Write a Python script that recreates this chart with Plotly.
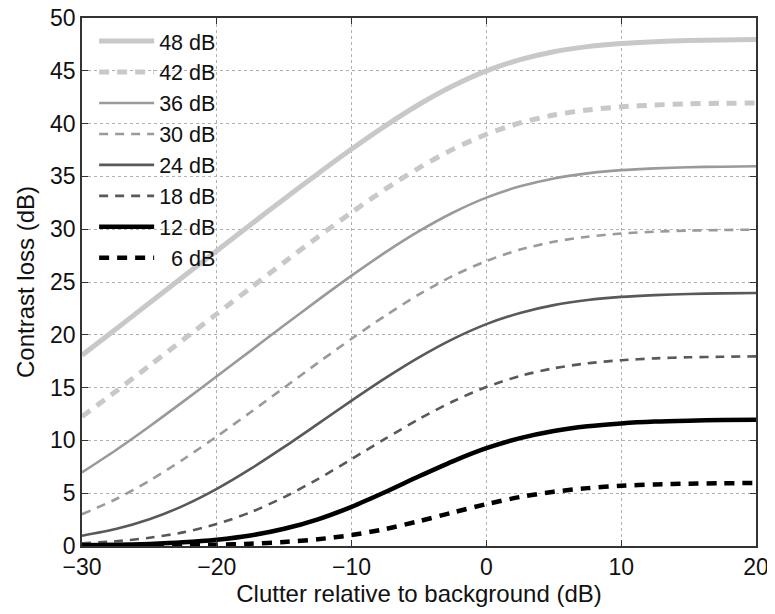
import plotly.graph_objects as go

clutter_db = [-30, -27.5, -25, -22.5, -20, -17.5, -15, -12.5, -10, -7.5, -5,
              -2.5, 0, 2.5, 5, 7.5, 10, 12.5, 15, 17.5, 20]

loss_48 = [18.07, 20.53, 23.01, 25.49, 27.96, 30.43, 32.87, 35.26, 37.59, 39.79, 41.81,
           43.56, 44.99, 46.06, 46.81, 47.29, 47.59, 47.76, 47.87, 47.92, 47.96]
loss_42 = [12.26, 14.64, 17.07, 19.53, 21.98, 24.44, 26.87, 29.27, 31.59, 33.79, 35.81,
           37.56, 38.99, 40.06, 40.81, 41.29, 41.59, 41.76, 41.87, 41.92, 41.96]
loss_36 = [6.97, 9.07, 11.32, 13.67, 16.07, 18.48, 20.90, 23.28, 25.60, 27.80, 29.81,
           31.56, 32.99, 34.06, 34.81, 35.29, 35.59, 35.76, 35.87, 35.92, 35.96]
loss_30 = [3.01, 4.43, 6.18, 8.19, 10.37, 12.66, 15.00, 17.34, 19.63, 21.81, 23.82,
           25.57, 26.99, 28.07, 28.81, 29.29, 29.59, 29.76, 29.87, 29.92, 29.96]
loss_24 = [0.97, 1.60, 2.53, 3.80, 5.41, 7.30, 9.38, 11.56, 13.76, 15.89, 17.86,
           19.59, 21.01, 22.07, 22.81, 23.29, 23.59, 23.76, 23.87, 23.92, 23.96]
loss_18 = [0.26, 0.45, 0.78, 1.29, 2.08, 3.19, 4.63, 6.34, 8.23, 10.16, 12.02,
           13.68, 15.06, 16.10, 16.83, 17.30, 17.59, 17.77, 17.87, 17.92, 17.96]
loss_12 = [0.06, 0.11, 0.20, 0.35, 0.60, 1.00, 1.63, 2.53, 3.71, 5.11, 6.60,
           8.02, 9.26, 10.21, 10.89, 11.34, 11.61, 11.78, 11.87, 11.93, 11.96]
loss_6 = [0.01, 0.02, 0.04, 0.07, 0.13, 0.22, 0.38, 0.64, 1.04, 1.61, 2.35,
          3.17, 3.96, 4.64, 5.14, 5.48, 5.70, 5.82, 5.90, 5.94, 5.97]

series_names = ["48 dB", "42 dB", "36 dB", "30 dB", "24 dB", "18 dB", "12 dB", "\u20076 dB"]
series_values = [loss_48, loss_42, loss_36, loss_30, loss_24, loss_18, loss_12, loss_6]

x_ticks = [-30, -20, -10, 0, 10, 20]
x_tick_labels = ["\u221230", "\u221220", "\u221210", "0", "10", "20"]
y_ticks = [0, 5, 10, 15, 20, 25, 30, 35, 40, 45, 50]

styles = [
    dict(color="#c8c8c8", width=5, dash="solid"),
    dict(color="#c8c8c8", width=5, dash="10px,8px"),
    dict(color="#9a9a9a", width=2.6, dash="solid"),
    dict(color="#9a9a9a", width=2.6, dash="9px,7px"),
    dict(color="#595959", width=2.6, dash="solid"),
    dict(color="#595959", width=2.6, dash="9px,7px"),
    dict(color="#000000", width=4.5, dash="solid"),
    dict(color="#000000", width=4.5, dash="10px,8px"),
]

fig = go.Figure()
for name, vals, st in zip(series_names, series_values, styles):
    fig.add_trace(go.Scatter(x=clutter_db, y=vals, mode="lines", name=name,
                             line=dict(shape="spline", smoothing=0.8, **st)))

font_family = "Liberation Sans, Arial, Helvetica, sans-serif"
fig.update_layout(
    width=767, height=606,
    margin=dict(l=74, r=19, t=10, b=68, autoexpand=False),
    paper_bgcolor="white", plot_bgcolor="white",
    font=dict(family=font_family, size=23, color="#111"),
    legend=dict(x=0.018, y=0.995, xanchor="left", yanchor="top",
                bgcolor="rgba(255,255,255,0)", borderwidth=0,
                font=dict(size=21.5), tracegroupgap=0, itemwidth=55,
                traceorder="normal"),
    showlegend=True,
)
fig.update_xaxes(range=[-30, 20], tickvals=x_ticks, ticktext=x_tick_labels,
                 ticks="inside", ticklen=6, tickcolor="#333", mirror="ticks",
                 showline=True, linecolor="#333", linewidth=1.5, automargin=False,
                 ticklabeloverflow="allow",
                 showgrid=True, gridcolor="#b0b0b0", griddash="dot", gridwidth=1,
                 zeroline=False, tickfont=dict(size=23),
                 title=dict(text="Clutter relative to background (dB)", font=dict(size=24), standoff=0))
fig.update_yaxes(range=[0, 50], tickvals=y_ticks,
                 ticks="inside", ticklen=6, tickcolor="#333", mirror="ticks",
                 showline=True, linecolor="#333", linewidth=1.5, automargin=False,
                 ticklabeloverflow="allow",
                 showgrid=True, gridcolor="#b0b0b0", griddash="dot", gridwidth=1,
                 zeroline=False, tickfont=dict(size=23),
                 title=dict(text="Contrast loss (dB)", font=dict(size=24), standoff=9))

fig.write_html("out.html")
